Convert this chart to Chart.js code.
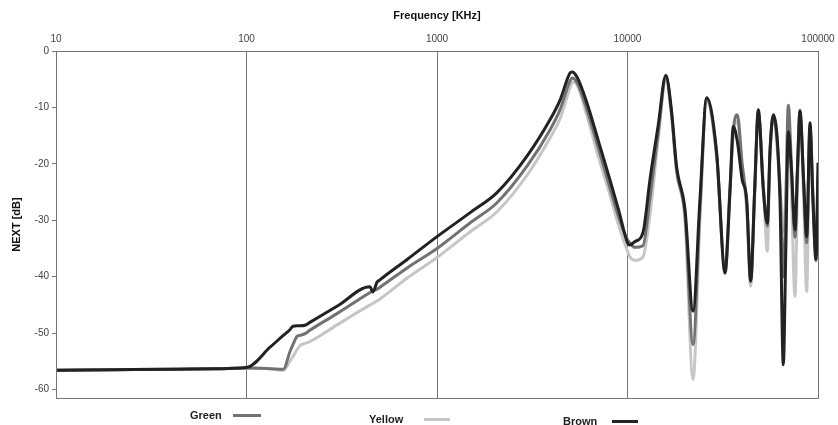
<!DOCTYPE html>
<html>
<head>
<meta charset="utf-8">
<script src="https://cdn.jsdelivr.net/npm/chart.js@4.4.1/dist/chart.umd.min.js"></script>
<style>
  html, body { margin: 0; padding: 0; background: #fff; }
  #wrap { position: relative; width: 838px; height: 425px; overflow: hidden; }
  canvas { position: absolute; left: 0; top: 0; }
  .lg { position: absolute; font: bold 11px "Liberation Sans", Arial, sans-serif; color: #222; white-space: nowrap; }
  .sw { position: absolute; height: 3px; }
</style>
</head>
<body>
<div id="wrap">
  <canvas id="c" width="838" height="425"></canvas>
  <span class="lg" style="left:190px;top:409px;">Green</span>
  <span class="sw" style="left:233px;top:414px;width:28px;background:#727272;"></span>
  <span class="lg" style="left:369px;top:413px;">Yellow</span>
  <span class="sw" style="left:424px;top:418px;width:26px;background:#c6c6c6;"></span>
  <span class="lg" style="left:563px;top:415px;">Brown</span>
  <span class="sw" style="left:612px;top:420px;width:26px;background:#222;"></span>
</div>
<script>
// Frequency in kHz (shared across series)
const freqKHz = [10, 20, 40, 70, 100, 133, 156, 169, 175, 184, 191, 203, 215, 300, 445, 461, 484, 500, 700,
  1000, 1500, 2065, 3000, 3917, 4426, 4990, 5120, 5432, 6126, 7000, 8085, 9000,
  10000, 10300, 10900, 12050, 13120, 14500, 15900, 17000, 18100, 20040, 22080, 24000, 26040, 29380,
  32510, 34540, 35930, 37710, 40000, 42240, 44330, 46500, 48600, 51620, 54190, 56000, 58260,
  63160, 65740, 67800, 69840, 72500, 75750, 78000, 80440, 84000, 87240, 90780, 94000, 97620, 100000];

// NEXT [dB] values
const brownDb = [-56.6, -56.5, -56.4, -56.3, -56.1, -52.5, -50.4, -49.4, -48.8, -48.7, -48.7, -48.6, -48.1, -45.2, -41.8, -42.7, -41.0, -40.6, -36.9,
  -32.9, -28.6, -25.1, -18.4, -12.2, -8.7, -3.9, -3.7, -4.6, -9.2, -15.7, -22.8, -28.3,
  -34.0, -34.4, -33.8, -32.2, -22.8, -13.1, -4.3, -10.4, -20.5, -28.1, -46.1, -26.4, -8.3, -18.0,
  -39.3, -24.6, -13.4, -16.0, -22.8, -26.4, -40.8, -24.6, -10.4, -24.6, -30.5, -17.5, -11.3,
  -26.4, -55.6, -35.0, -14.3, -21.0, -31.7, -21.0, -10.7, -22.8, -32.9, -12.7, -26.4, -37.0, -19.8];

const greenDb = [-56.6, -56.5, -56.4, -56.3, -56.2, -56.3, -56.4, -53.3, -52.1, -50.6, -50.4, -50.1, -49.5, -46.5, -42.8, -42.5, -42.2, -41.9, -38.4,
  -35.0, -30.4, -26.9, -20.2, -14.0, -10.4, -5.3, -4.8, -5.6, -10.4, -17.0, -24.2, -29.5,
  -33.5, -34.0, -34.8, -34.5, -26.0, -14.5, -4.6, -10.8, -21.0, -29.0, -52.0, -28.0, -8.5, -18.5,
  -38.5, -24.0, -14.0, -11.3, -20.0, -27.0, -40.5, -25.0, -10.8, -24.0, -31.0, -18.0, -11.5,
  -24.0, -40.0, -27.0, -9.6, -20.0, -33.0, -21.0, -10.5, -23.0, -34.0, -13.5, -25.0, -36.0, -22.0];

const yellowDb = [-56.6, -56.5, -56.4, -56.3, -56.2, -56.3, -56.6, -55.0, -54.2, -53.0, -52.2, -51.8, -51.5, -48.5, -45.0, -44.7, -44.3, -44.0, -40.2,
  -36.6, -32.0, -28.5, -21.8, -15.4, -12.0, -6.5, -5.5, -6.0, -11.5, -18.5, -25.5, -31.0,
  -35.5, -36.5, -37.1, -36.5, -29.0, -15.5, -5.2, -11.5, -21.5, -30.0, -58.2, -30.0, -9.0, -19.0,
  -39.5, -25.0, -14.5, -12.5, -21.0, -28.0, -41.7, -26.0, -11.0, -23.5, -35.5, -19.0, -12.0,
  -24.0, -32.0, -25.0, -11.0, -25.0, -43.5, -25.0, -11.5, -26.0, -42.6, -14.0, -26.0, -37.3, -28.0];

const xTicks = [10, 100, 1000, 10000, 100000];
const yTicks = [0, -10, -20, -30, -40, -50, -60];

const pts = arr => freqKHz.map((f, i) => ({ x: f, y: arr[i] }));

const frame = {
  id: 'frame',
  afterDraw(chart) {
    const a = chart.chartArea, ctx = chart.ctx;
    ctx.save();
    ctx.strokeStyle = '#777';
    ctx.lineWidth = 1;
    ctx.strokeRect(Math.round(a.left) + 0.5, Math.round(a.top) + 0.5, Math.round(a.right - a.left), Math.round(a.bottom - a.top));
    ctx.restore();
  }
};

const tickFont = { family: '"Liberation Sans", Arial, sans-serif', size: 10 };

new Chart(document.getElementById('c'), {
  type: 'line',
  data: {
    datasets: [
      { label: 'Brown', data: pts(brownDb), borderColor: '#222', borderWidth: 3 },
      { label: 'Green', data: pts(greenDb), borderColor: '#727272', borderWidth: 3 },
      { label: 'Yellow', data: pts(yellowDb), borderColor: '#c6c6c6', borderWidth: 3 }
    ]
  },
  options: {
    responsive: false,
    animation: false,
    layout: { padding: { left: 0, right: 20, top: 0, bottom: 27 } },
    elements: { point: { radius: 0 }, line: { cubicInterpolationMode: 'monotone' } },
    plugins: { legend: { display: false }, tooltip: { enabled: false } },
    scales: {
      x: {
        type: 'logarithmic',
        position: 'top',
        min: 10, max: 100000,
        afterBuildTicks: s => { s.ticks = xTicks.map(v => ({ value: v })); },
        afterFit: s => { s.height = 51; s.paddingRight = 0; s.paddingLeft = 0; },
        ticks: { color: '#444', font: tickFont, padding: 6, maxRotation: 0, autoSkip: false, callback: v => String(v) },
        grid: { color: '#777', drawTicks: false, lineWidth: 1 },
        border: { display: false },
        title: { display: true, text: 'Frequency [KHz]', color: '#111', font: { family: '"Liberation Sans", Arial, sans-serif', size: 11, weight: 'bold' }, padding: { top: 9, bottom: 4 } }
      },
      y: {
        type: 'linear',
        min: -61.5, max: 0,
        afterBuildTicks: s => { s.ticks = yTicks.map(v => ({ value: v })); },
        afterFit: s => { s.width = 56; },
        ticks: { color: '#444', font: tickFont, padding: 3 },
        grid: { drawOnChartArea: false, drawTicks: true, tickLength: 4, color: '#777' },
        border: { display: true, color: '#777' },
        title: { display: true, text: 'NEXT [dB]', color: '#111', font: { family: '"Liberation Sans", Arial, sans-serif', size: 11, weight: 'bold' }, padding: { top: 10, bottom: 4 } }
      }
    }
  },
  plugins: [frame]
});
</script>
</body>
</html>
